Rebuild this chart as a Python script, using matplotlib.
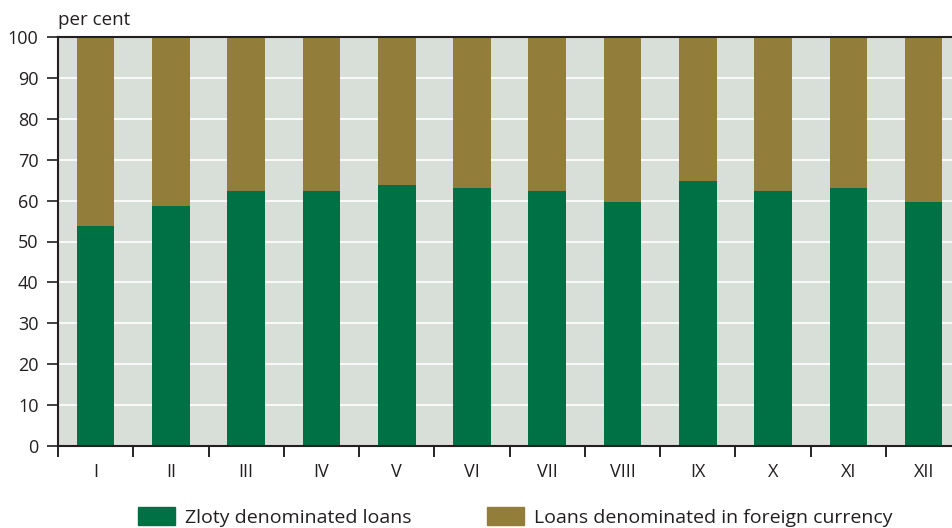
import matplotlib.pyplot as plt
import numpy as np
from matplotlib.patches import Patch

months = ["I", "II", "III", "IV", "V", "VI", "VII", "VIII", "IX", "X", "XI", "XII"]
zloty = [53.9, 58.6, 62.4, 62.4, 63.9, 63.2, 62.4, 59.7, 64.7, 62.4, 63.1, 59.7]
foreign = [100 - v for v in zloty]

GREEN = "#007045"
GOLD = "#927D3A"
BG = "#D8DED8"

plt.rcParams["font.family"] = ["Open Sans", "DejaVu Sans"]

fig = plt.figure(figsize=(9.53, 5.28), dpi=100)
ax = fig.add_axes([58 / 953, 1 - 446 / 528, 1 - 58 / 953, (446 - 37) / 528])
ax.set_facecolor(BG)

x = np.arange(len(months))
ax.bar(x, zloty, width=0.5, color=GREEN, zorder=2)
ax.bar(x, foreign, width=0.5, bottom=zloty, color=GOLD, zorder=2)

ax.set_yticks(range(0, 101, 10))
ax.yaxis.grid(True, color="white", linewidth=1.2, zorder=1)
ax.set_axisbelow(True)

ax.set_xticks(x)
ax.set_xticklabels(months)
ax.set_xticks(np.arange(-0.5, 12, 1), minor=True)
ax.set_ylim(0, 100)
ax.set_xlim(-0.5, 11.39)
ax.tick_params(axis="x", which="major", length=0, pad=12, labelsize=13, colors="#231f20")
ax.tick_params(axis="x", which="minor", length=8, width=1.2, direction="out")
ax.tick_params(axis="y", length=8, width=1.2, labelsize=13, colors="#231f20", pad=6)

for side in ["left", "bottom", "top"]:
    ax.spines[side].set_linewidth(1.5)
    ax.spines[side].set_color("#231f20")
ax.spines["right"].set_visible(False)

fig.text(58 / 953, 1 - 20 / 528, "per cent", fontsize=13.5, color="#231f20", va="center")

handles = [Patch(color=GREEN, label="Zloty denominated loans"),
           Patch(color=GOLD, label="Loans denominated in foreign currency")]
fig.legend(handles=handles, loc="center", bbox_to_anchor=(0.541, 1 - 517 / 528), ncol=2,
           frameon=False, fontsize=14, handlelength=1.9, handleheight=1.05,
           columnspacing=3.9, handletextpad=0.5, labelcolor="#231f20")

fig.savefig("out.png", dpi=100)
